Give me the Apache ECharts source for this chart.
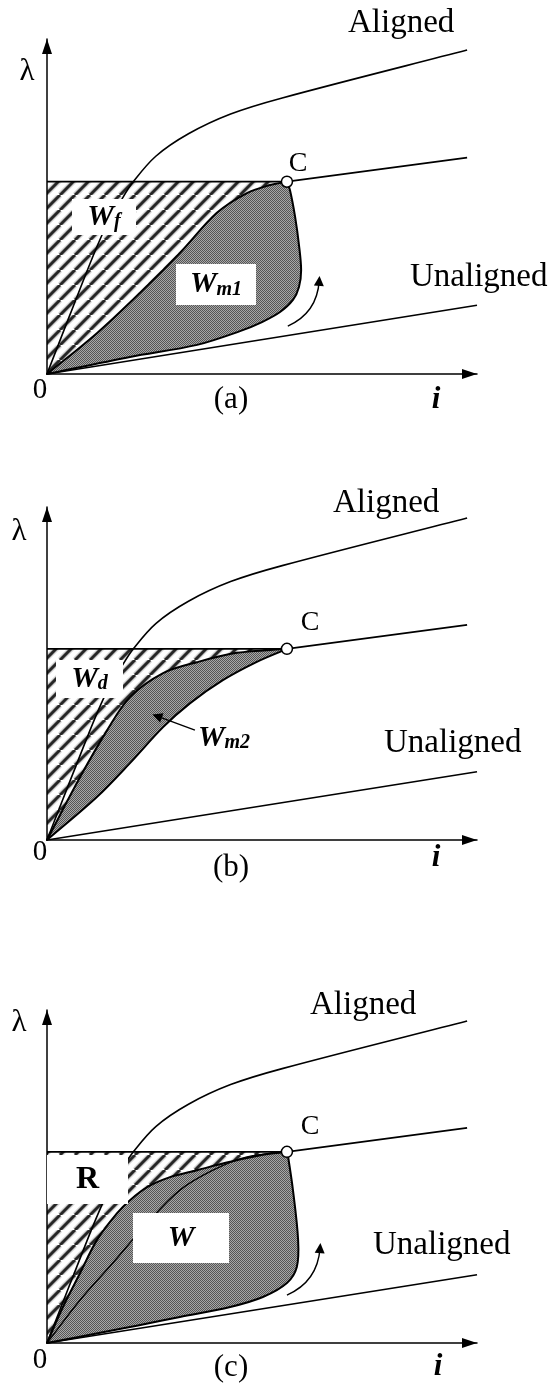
<!DOCTYPE html>
<html>
<head>
<meta charset="utf-8">
<script src="https://cdn.jsdelivr.net/npm/echarts@6/dist/echarts.min.js"></script>
<style>
  html, body { margin: 0; padding: 0; background: #fff; }
  #chart { width: 552px; height: 1387px; }
</style>
</head>
<body>
<div id="chart"></div>
<script>
// Flux-linkage (λ) versus current (i) characteristics, relative units 0–100.
// Curves shared by all three panels
const alignedCurve   = [[0, 0], [6.05, 20.0], [13.0, 42.1], [17.7, 52.8], [20.0, 57.3], [25.3, 65.0], [32.9, 71.7], [42.7, 77.6], [54.7, 82.4], [97.7, 96.7]];
const pointC         = [55.8, 57.4];
const cLevelCurve    = [[0, 57.4], [55.8, 57.4], [97.7, 64.6]];
const unalignedCurve = [[0, 0], [100, 20.5]];

// (a) energy loop: upper edge from 0 to C, lower/right edge from 0 to C
const loopAUpper = [[0, 0], [11.6, 12.2], [21.6, 24.2], [30.9, 36.1], [39.5, 48.1], [46.5, 54.0], [51.9, 56.4], [55.8, 57.4]];
const loopALower = [[0, 0], [19.3, 5.1], [34.9, 8.7], [44.9, 12.8], [50.0, 15.5], [54.2, 18.5], [57.2, 22.1], [58.6, 26.0], [59.1, 31.0], [58.6, 38.5], [57.7, 46.9], [56.5, 54.9], [55.8, 57.4]];
const arrowA     = [[56.0, 14.3], [63.3, 27.8]];

// (b) energy loop
const loopBUpper = [[0, 0], [7.7, 18.9], [14.0, 33.0], [19.3, 42.9], [27.0, 50.1], [34.9, 53.4], [44.2, 56.2], [55.8, 57.4]];
const loopBLower = [[0, 0], [11.6, 12.9], [19.3, 23.1], [27.0, 33.9], [33.3, 41.1], [40.9, 48.0], [48.8, 53.5], [55.8, 57.4]];
const pointerB   = [[34.4, 33.0], [25.6, 37.2]];

// (c) energy loop with inner trajectory
const loopCUpper = [[0, 0], [3.7, 10.8], [7.7, 21.0], [11.6, 30.9], [16.3, 39.0], [19.3, 42.9], [23.3, 46.8], [28.6, 49.8], [34.9, 51.9], [42.6, 54.4], [50.2, 56.5], [55.8, 57.4]];
const loopCLower = [[0, 0], [19.3, 4.8], [30.9, 7.8], [42.6, 10.8], [50.2, 13.8], [55.8, 18.0], [58.1, 22.8], [58.4, 30.9], [57.2, 45.9], [56.0, 56.5], [55.8, 57.4]];
const loopCInner = [[0, 0], [7.7, 12.9], [15.3, 24.0], [23.3, 36.0], [30.9, 45.9], [38.6, 51.9], [46.5, 55.9], [55.8, 57.4]];
const arrowC     = [[55.8, 14.4], [63.5, 28.5]];

const FONT = "'Liberation Serif', 'DejaVu Serif', serif";

// ---- fill patterns ----
function hatchPattern() {
  const s = 15, c = document.createElement('canvas');
  c.width = c.height = s;
  const g = c.getContext('2d');
  g.fillStyle = '#fff'; g.fillRect(0, 0, s, s);
  const draw = (w, col) => {
    g.strokeStyle = col; g.lineWidth = w; g.beginPath();
    for (const o of [-s, 0, s]) { g.moveTo(o, s); g.lineTo(o + s, 0); }
    g.stroke();
  };
  draw(5.5, '#cfcfcf');
  draw(3, '#262626');
  return { image: c, repeat: 'repeat' };
}
function checkerPattern() {
  const c = document.createElement('canvas');
  c.width = c.height = 2;
  const g = c.getContext('2d');
  g.fillStyle = '#a8a8a8'; g.fillRect(0, 0, 2, 2);
  g.fillStyle = '#565656'; g.fillRect(0, 0, 1, 1); g.fillRect(1, 1, 1, 1);
  return { image: c, repeat: 'repeat' };
}
const HATCH = hatchPattern();
const CHECK = checkerPattern();

// ---- path helpers (points converted through the axes) ----
const toPx = (api, pts) => pts.map(p => api.coord(p));
// cubic segments through the pixel points, tangents scaled by chord length
function spline(P) {
  const n = P.length;
  const tan = P.map((p, k) => {
    const a = P[Math.max(k - 1, 0)], b = P[Math.min(k + 1, n - 1)];
    const dx = b[0] - a[0], dy = b[1] - a[1], len = Math.hypot(dx, dy) || 1;
    return [dx / len, dy / len];
  });
  let d = '';
  for (let k = 0; k < n - 1; k++) {
    const p1 = P[k], p2 = P[k + 1];
    const h = Math.hypot(p2[0] - p1[0], p2[1] - p1[1]) / 3;
    const c1 = [p1[0] + tan[k][0] * h, p1[1] + tan[k][1] * h];
    const c2 = [p2[0] - tan[k + 1][0] * h, p2[1] - tan[k + 1][1] * h];
    d += 'C' + c1[0] + ',' + c1[1] + ' ' + c2[0] + ',' + c2[1] + ' ' + p2[0] + ',' + p2[1];
  }
  return d;
}
function loopPath(api, upper, lower) {
  const U = toPx(api, upper), L = toPx(api, lower.slice().reverse());
  return 'M' + U[0][0] + ',' + U[0][1] + spline(U) + spline(L) + 'Z';
}
function hatchPath(api, upper) {
  const O = api.coord([0, 0]), T = api.coord([0, pointC[1]]), C = api.coord(pointC);
  const U = toPx(api, upper.slice().reverse());
  return 'M' + O[0] + ',' + O[1] + 'L' + T[0] + ',' + T[1] + 'L' + C[0] + ',' + C[1] + spline(U) + 'Z';
}
function openPath(api, pts) {
  const P = toPx(api, pts);
  return 'M' + P[0][0] + ',' + P[0][1] + spline(P);
}

function regionSeries(gi, build, style, z) {
  return {
    type: 'custom', coordinateSystem: 'cartesian2d', xAxisIndex: gi, yAxisIndex: gi,
    z, silent: true, clip: false, data: [[0, 0]],
    renderItem: (params, api) => ({ type: 'path', shape: { pathData: build(api) }, style })
  };
}
function curveSeries(gi, pts, width) {
  return regionSeries(gi, api => openPath(api, pts), { fill: null, stroke: '#000', lineWidth: width, lineJoin: 'round' }, 4);
}
function lineSeries(gi, data, width) {
  return {
    type: 'line', xAxisIndex: gi, yAxisIndex: gi, data, smooth: false,
    symbol: 'none', silent: true, z: 4,
    lineStyle: { color: '#000', width: width || 1.6 }
  };
}
function arrowSeries(gi, coords, curveness) {
  return {
    type: 'lines', coordinateSystem: 'cartesian2d', xAxisIndex: gi, yAxisIndex: gi,
    data: [{ coords }], symbol: ['none', 'triangle'], symbolSize: 10, silent: true, z: 5,
    lineStyle: { color: '#000', width: 1.4, opacity: 1, curveness }
  };
}
function pointSeries(gi) {
  return {
    type: 'scatter', xAxisIndex: gi, yAxisIndex: gi, data: [pointC], symbol: 'circle',
    symbolSize: 11, silent: true, z: 30,
    itemStyle: { color: '#fff', borderColor: '#000', borderWidth: 1.5, opacity: 1 }
  };
}
function panel(gi, upper, lower) {
  return [
    regionSeries(gi, api => hatchPath(api, upper), { fill: HATCH }, 1),
    regionSeries(gi, api => loopPath(api, upper, lower), { fill: CHECK, stroke: '#000', lineWidth: 2, lineJoin: 'round' }, 2),
    curveSeries(gi, alignedCurve, 1.6),
    lineSeries(gi, cLevelCurve, 1.7),
    lineSeries(gi, unalignedCurve, 1.6),
    pointSeries(gi)
  ];
}

const series = [
  ...panel(0, loopAUpper, loopALower),
  arrowSeries(0, arrowA, -0.3),
  ...panel(1, loopBUpper, loopBLower),
  arrowSeries(1, pointerB, 0),
  ...panel(2, loopCUpper, loopCLower),
  curveSeries(2, loopCInner, 1.4),
  arrowSeries(2, arrowC, -0.3)
];

const grids = [
  { left: 47, top: 39, width: 430, height: 335 },
  { left: 47, top: 507, width: 430, height: 333 },
  { left: 47, top: 1010, width: 430, height: 333 }
];
const axisBase = {
  type: 'value', min: 0, max: 100, z: 10,
  axisLine: {
    show: true, onZero: false, symbol: ['none', 'triangle'], symbolSize: [10, 15], symbolOffset: [0, -7.5],
    lineStyle: { color: '#000', width: 1.5 }
  },
  axisTick: { show: false }, axisLabel: { show: false }, splitLine: { show: false }
};

// ---- text ----
function txt(x, y, text, size, opt) {
  opt = opt || {};
  return {
    type: 'text', x, y, z: 40, silent: true,
    style: {
      text, fontFamily: FONT, fontSize: size, fill: '#000',
      fontWeight: opt.bold ? 'bold' : 'normal', fontStyle: opt.italic ? 'italic' : 'normal',
      align: opt.align || 'center', verticalAlign: 'middle'
    }
  };
}
const RICH = {
  W: { fontFamily: FONT, fontSize: 30, fontWeight: 'bold', fontStyle: 'italic', fill: '#000', color: '#000' },
  s: { fontFamily: FONT, fontSize: 20, fontWeight: 'bold', fontStyle: 'italic', fill: '#000', color: '#000', verticalAlign: 'bottom' },
  R: { fontFamily: FONT, fontSize: 32, fontWeight: 'bold', fill: '#000', color: '#000' }
};
function tag(x, y, w, h, text, boxed) {
  const items = [];
  if (boxed) items.push({ type: 'rect', z: 35, silent: true, shape: { x, y, width: w, height: h }, style: { fill: '#fff' } });
  items.push({
    type: 'text', z: 40, silent: true, x: x + w / 2, y: y + h / 2,
    style: { text, rich: RICH, align: 'center', verticalAlign: 'middle' }
  });
  return items;
}

const panelText = [
  { aligned: [348, 23],   unaligned: [410, 277],  c: [298, 164],  lam: [27, 72],   zero: [40, 390],  i: [436, 400],  cap: '(a)', capY: 400 },
  { aligned: [333, 503],  unaligned: [384, 743],  c: [310, 623],  lam: [19, 532],  zero: [40, 852],  i: [436, 858],  cap: '(b)', capY: 868 },
  { aligned: [310, 1005], unaligned: [373, 1245], c: [310, 1127], lam: [19, 1023], zero: [40, 1360], i: [438, 1367], cap: '(c)', capY: 1368 }
];
const graphics = [];
panelText.forEach(p => {
  graphics.push(txt(p.aligned[0], p.aligned[1], 'Aligned', 33, { align: 'left' }));
  graphics.push(txt(p.unaligned[0], p.unaligned[1], 'Unaligned', 33, { align: 'left' }));
  graphics.push(txt(p.c[0], p.c[1], 'C', 28));
  graphics.push(txt(p.lam[0], p.lam[1], 'λ', 31));
  graphics.push(txt(p.zero[0], p.zero[1], '0', 29));
  graphics.push(txt(p.i[0], p.i[1], 'i', 31, { bold: true, italic: true }));
  graphics.push(txt(231, p.capY, p.cap, 31));
});
graphics.push(...tag(72, 199, 64, 36, '{W|W}{s|f}', true));
graphics.push(...tag(176, 264, 80, 41, '{W|W}{s|m1}', true));
graphics.push(...tag(56, 660, 67, 38, '{W|W}{s|d}', true));
graphics.push(...tag(194, 720, 60, 36, '{W|W}{s|m2}', false));
graphics.push(...tag(47, 1155, 81, 49, '{R|R}', true));
graphics.push(...tag(133, 1213, 96, 50, '{W|W}', true));

const chart = echarts.init(document.getElementById('chart'), null, { renderer: 'canvas' });
chart.setOption({
  animation: false,
  backgroundColor: '#fff',
  grid: grids,
  xAxis: grids.map((g, k) => Object.assign({ gridIndex: k }, axisBase)),
  yAxis: grids.map((g, k) => Object.assign({ gridIndex: k }, axisBase)),
  series,
  graphic: graphics
});
</script>
</body>
</html>
